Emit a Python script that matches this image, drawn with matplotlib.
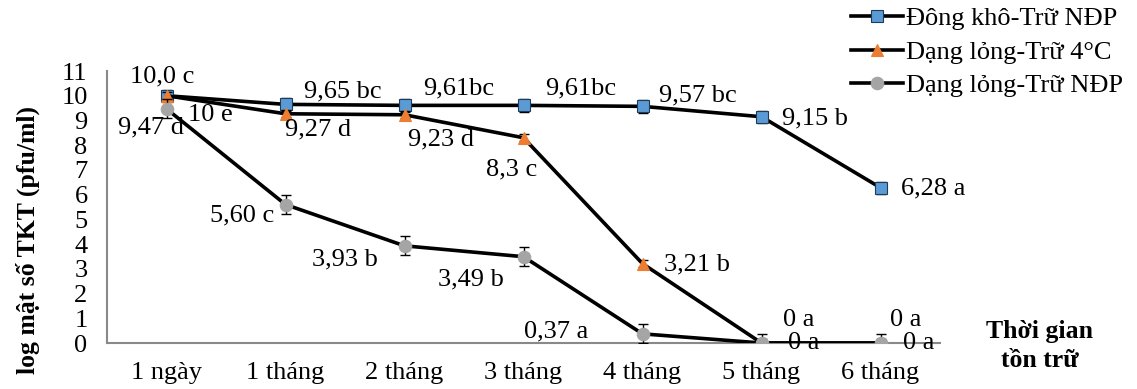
import numpy as np
import matplotlib.pyplot as plt

plt.rcParams['font.family'] = ['Liberation Serif', 'DejaVu Serif']

# Data
months = ['1 ngày', '1 tháng', '2 tháng', '3 tháng', '4 tháng', '5 tháng', '6 tháng']

dong_kho = [10.0, 9.65, 9.61, 9.61, 9.57, 9.15, 6.28]
dong_kho_err = [0.25, 0.25, 0.25, 0.25, 0.25, 0.25, 0.25]
dong_kho_lbl = ['10,0 c', '9,65 bc', '9,61bc', '9,61bc', '9,57 bc', '9,15 b', '6,28 a']

long_4c = [10.0, 9.27, 9.23, 8.3, 3.21, 0.0, 0.0]
long_4c_err = [0.15, 0.15, 0.15, 0.15, 0.15, 0.15, 0.15]
long_4c_lbl = ['10 e', '9,27 d', '9,23 d', '8,3 c', '3,21 b', '0 a', '0 a']

long_ndp = [9.47, 5.60, 3.93, 3.49, 0.37, 0.0, 0.0]
long_ndp_err = [0.38, 0.38, 0.38, 0.38, 0.38, 0.38, 0.38]
long_ndp_lbl = ['9,47 d', '5,60 c', '3,93 b', '3,49 b', '0,37 a', '0 a', '0 a']

# label offsets (pixels) for each point
off_dk = [(-4, 19), (57, 13), (54, 17), (57, 17), (55, 11), (54, -2), (53, -1)]
off_4c = [(44, -19), (33, -16), (37, -25), (-12, -32), (54, -1), (37, 23), (25, 23)]
off_nd = [(-15, -19), (-43, -11), (-60, -14), (-53, -23), (-86, 2), (42, 0), (38, 0)]

x = np.arange(len(months))
fs = 19

fig = plt.figure(figsize=(11.37, 3.89), dpi=100)
ax = fig.add_axes([107 / 1137, 1 - 343 / 389, 833 / 1137, 272 / 389])

series = [
    (dong_kho, dong_kho_err, 's', '#5B9BD5', '#1F3B5A', 8.5, 'Đông khô-Trữ NĐP'),
    (long_4c, long_4c_err, '^', '#ED7D31', '#ED7D31', 9, 'Dạng lỏng-Trữ 4°C'),
    (long_ndp, long_ndp_err, 'o', '#A5A5A5', '#A5A5A5', 9, 'Dạng lỏng-Trữ NĐP'),
]
handles = []
for k, (y, e, m, fc, ec, ms, name) in enumerate(series):
    ax.errorbar(x, y, yerr=e, fmt='none', ecolor='black', elinewidth=1,
                capsize=3.5, capthick=1, zorder=2 + k)
    h, = ax.plot(x, y, color='black', lw=2.6, marker=m, markersize=ms,
                 markerfacecolor=fc, markeredgecolor=ec, markeredgewidth=0.8,
                 label=name, zorder=3 + k)
    handles.append(h)

for vals, lbls, offs in [(dong_kho, dong_kho_lbl, off_dk),
                         (long_4c, long_4c_lbl, off_4c),
                         (long_ndp, long_ndp_lbl, off_nd)]:
    for i, (v, t, o) in enumerate(zip(vals, lbls, offs)):
        ax.annotate(t, (x[i], v), xytext=o, textcoords='offset pixels',
                    ha='center', va='center', fontsize=fs,
                    annotation_clip=False, zorder=10)

ax.set_xlim(-0.5, 6.5)
ax.set_ylim(0, 11)
ax.set_yticks(range(0, 12))
ax.set_xticks(x)
ax.set_xticklabels(months)
ax.tick_params(axis='both', length=0, labelsize=fs)
ax.tick_params(axis='y', pad=14)
ax.tick_params(axis='x', pad=14)
for s in ['top', 'right']:
    ax.spines[s].set_visible(False)
for s in ['left', 'bottom']:
    ax.spines[s].set_color('#898989')
    ax.spines[s].set_linewidth(1.5)

fig.text(28 / 1137, 1 - 240 / 389, 'log mật số TKT (pfu/ml)', rotation=90,
         ha='center', va='center', fontsize=18.5, fontweight='bold')
fig.text(1040 / 1137, 1 - 346 / 389, 'Thời gian\ntồn trữ', ha='center',
         va='center', fontsize=18.5, fontweight='bold', linespacing=1.3)

fig.legend(handles=handles, loc='upper right', frameon=False,
           bbox_to_anchor=(1123 / 1137, 1 - 7 / 389), fontsize=fs,
           handlelength=2.0, handletextpad=0.1, labelspacing=0.38,
           borderpad=0, borderaxespad=0)

fig.savefig('out.png', dpi=100)
